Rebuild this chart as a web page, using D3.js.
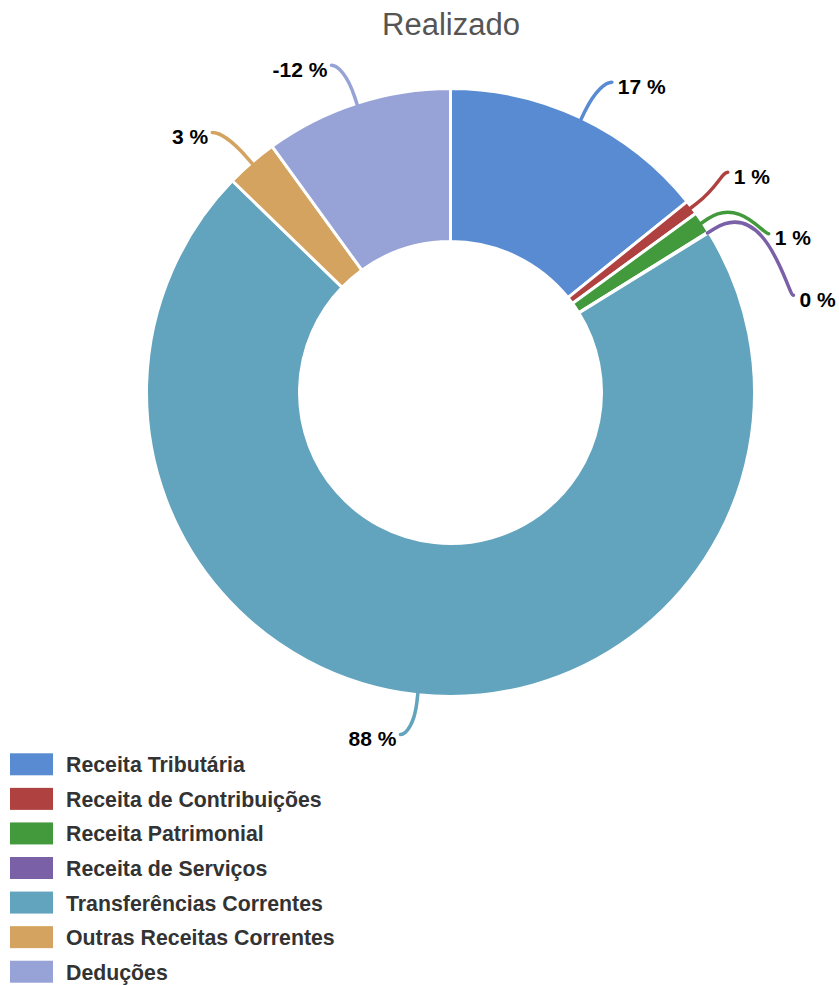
<!DOCTYPE html>
<html><head><meta charset="utf-8">
<script src="https://cdn.jsdelivr.net/npm/d3@7"></script>
<style>html,body{margin:0;padding:0;background:#fff;}svg{display:block;}</style>
</head><body>
<svg id="chart" width="839" height="985"></svg>
<script>
const title = "Realizado";
const categories = ["Receita Tributária","Receita de Contribuições","Receita Patrimonial","Receita de Serviços","Transferências Correntes","Outras Receitas Correntes","Deduções"];
const values = [17.49, 0.95, 1.45, 0.05, 87.6, 3.4, -12.3];
const colors = ["#588bd2","#b04141","#439a3c","#7a60a7","#62a3bd","#d3a35f","#97a3d6"];

const W = 839, H = 985;
const cx = 450.5, cy = 392.5, rOuter = 304, rInner = 151, rEdge = 302.5;
const R = 344, gap = 61, slotH = 30.75;

const svg = d3.select("#chart");
const font = "'Liberation Sans', Arial, sans-serif";

svg.append("text").attr("x", 451).attr("y", 35).attr("text-anchor","middle")
  .attr("font-family", font).attr("font-size", 31).attr("fill","#555").text(title);

const data = categories.map((c,i)=>({name:c, value:values[i], color:colors[i]}));
const pie = d3.pie().sort(null).value(d=>Math.abs(d.value));
const arcs = pie(data);
const arc = d3.arc().innerRadius(rInner).outerRadius(rOuter);

const g = svg.append("g").attr("transform",`translate(${cx},${cy})`);
g.selectAll("path.slice").data(arcs).join("path").attr("class","slice")
  .attr("d", arc).attr("fill", d=>d.data.color).attr("stroke","#fff").attr("stroke-width",3).attr("stroke-linejoin","round");

// label layout (slot based)
const labels = arcs.map(a=>{
  const mid = (a.startAngle + a.endAngle)/2;
  return {a, mid, right: mid < Math.PI, ny: -R*Math.cos(mid)};
});
const slotYs = [];
for (let y = rEdge; y > -rEdge - slotH; y -= slotH) slotYs.push(y);
["right","left"].forEach(side=>{
  const list = labels.filter(l => (side==="right") === l.right).sort((p,q)=>p.ny-q.ny);
  const taken = slotYs.map(()=>false);
  list.forEach(l=>{
    let best = -1, bd = Infinity;
    slotYs.forEach((y,i)=>{ if(!taken[i] && Math.abs(y-l.ny) < bd){ bd = Math.abs(y-l.ny); best = i; } });
    l.slot = slotYs[best];
    [best-1,best,best+1].forEach(i=>{ if(i>=0 && i<taken.length) taken[i]=true; });
  });
  list.forEach((l,i)=>{
    const prev = i>0 ? list[i-1].y : -Infinity;
    const next = i<list.length-1 ? list[i+1].slot : Infinity;
    l.y = (l.ny - prev >= gap && next - l.ny >= gap) ? l.ny : l.slot;
  });
});
labels.forEach(l=>{
  const s = l.right ? 1 : -1;
  const dx = Math.sqrt(Math.max(0, R*R - l.y*l.y));
  l.ex = s*(dx + 13);
  const ux = Math.sin(l.mid), uy = -Math.cos(l.mid);
  l.tx = ux*rEdge; l.ty = uy*rEdge;
  l.bx = ux*(rEdge+8); l.by = uy*(rEdge+8);
  const L = 0.6*Math.hypot(l.ex - l.bx, l.y - l.by);
  l.c2x = l.bx + ux*L; l.c2y = l.by + uy*L;
  l.c1x = l.ex - s*6; l.c1y = l.y;
});

g.selectAll("path.conn").data(labels).join("path").attr("class","conn")
  .attr("d", l=>`M${l.tx},${l.ty}L${l.bx},${l.by}C${l.c2x},${l.c2y} ${l.c1x},${l.c1y} ${l.ex},${l.y}`)
  .attr("fill","none").attr("stroke", l=>l.a.data.color).attr("stroke-width",3.5).attr("stroke-linecap","round");

g.selectAll("text.lbl").data(labels).join("text").attr("class","lbl")
  .attr("x", l=> l.ex + (l.right ? 6 : -4))
  .attr("y", l=> l.y + 11.5)
  .attr("text-anchor", l=> l.right ? "start" : "end")
  .attr("font-family", font).attr("font-size", 21).attr("font-weight","bold").attr("fill","#000")
  .text(l=> `${Math.round(l.a.data.value)} %`);

// legend
const lg = svg.append("g");
const rowH = 34.57, ly0 = 753.3;
const item = lg.selectAll("g").data(data).join("g").attr("transform",(d,i)=>`translate(0,${ly0 + i*rowH})`);
item.append("rect").attr("x",10).attr("y",0).attr("width",43).attr("height",22).attr("fill",d=>d.color);
item.append("text").attr("x",66).attr("y",19).attr("font-family",font).attr("font-size",21.3).attr("font-weight","bold").attr("fill","#333").text(d=>d.name);
</script>
</body></html>
